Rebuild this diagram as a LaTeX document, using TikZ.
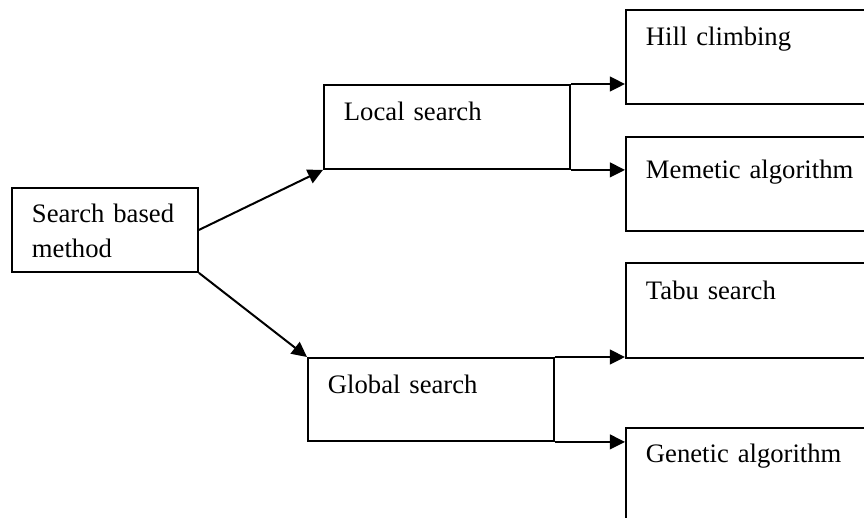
\documentclass[tikz,border=0pt]{standalone}
\usepackage{fontspec}
\setmainfont{Liberation Serif}
\usetikzlibrary{arrows.meta}

\tikzset{
  box/.style={draw, line width=0.85pt, anchor=north west, align=left,
    inner xsep=9pt, inner ysep=0pt, font=\fontsize{12}{15.75}\selectfont},
  midbox/.style={box, text width=92.7pt, text height=16.2pt, text depth=21.6pt},
  leaf/.style={box, text width=94.5pt, text height=16.2pt, text depth=26.1pt},
  link/.style={line width=0.9pt, -{Triangle[length=6.8pt,width=6.6pt]}}
}

\begin{document}
\begin{tikzpicture}[x=0.45pt, y=-0.45pt]
	\path[use as bounding box, clip] (0,0) rectangle (864,517);

	\node[box, text width=65.7pt, text height=15.75pt, text depth=22.05pt] (search) at (11,187) {Search based\\method};
	\node[midbox] (local) at (323,84) {Local search};
	\node[midbox, text depth=21.15pt] (global) at (307,357) {Global search};

	\node[leaf] (hill) at (625,9) {Hill climbing};
	\node[leaf, text height=18.9pt, text depth=23.4pt] (meme) at (625,136) {Memetic algorithm};
	\node[leaf, text height=16.65pt] (tabu) at (625,262) {Tabu search};
	\node[leaf, text height=15.75pt, text depth=29.25pt] (gene) at (625,427) {Genetic algorithm};

	\draw[link] (search.east) -- (local.south west);
	\draw[link] (search.south east) -- (global.north west);

	\draw[link] (local.north east) -- (local.north east -| hill.west);
	\draw[link] (local.south east) -- (local.south east -| meme.west);
	\draw[link] (global.north east) -- (global.north east -| tabu.west);
	\draw[link] (global.south east) -- (global.south east -| gene.west);
\end{tikzpicture}
\end{document}
